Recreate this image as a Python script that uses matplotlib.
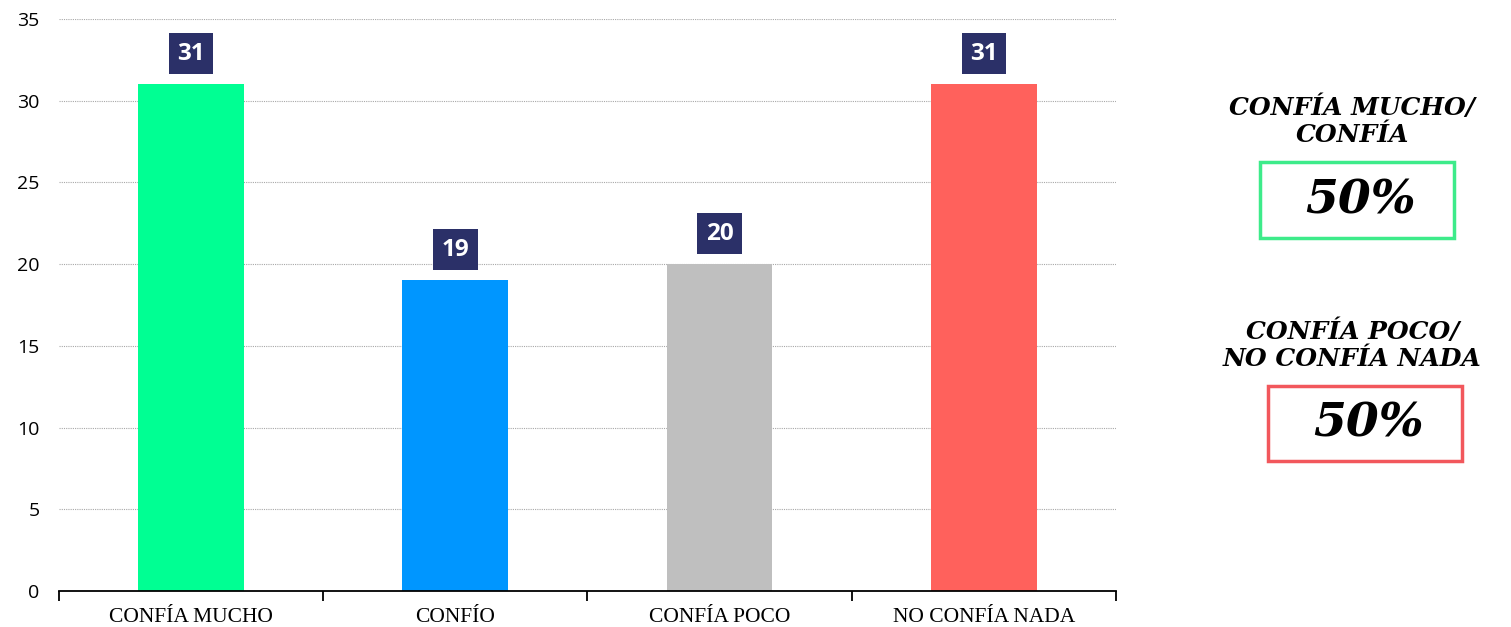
import matplotlib
matplotlib.use("Agg")
import matplotlib.pyplot as plt
from matplotlib.patches import Rectangle

# -------------------- Data --------------------
categories = ["CONFÍA MUCHO", "CONFÍO", "CONFÍA POCO", "NO CONFÍA NADA"]
values = [31, 19, 20, 31]
bar_colors = ["#00FF93", "#0096FF", "#BFBFBF", "#FF615C"]
yticks = [0, 5, 10, 15, 20, 25, 30, 35]

summary_titles = ["CONFÍA MUCHO/\nCONFÍA", "CONFÍA POCO/\nNO CONFÍA NADA"]
summary_values = ["50%", "50%"]
summary_colors = ["#3DEB8A", "#F2575C"]

# -------------------- Figure --------------------
fig = plt.figure(figsize=(15.11, 6.27), dpi=100)
ax = fig.add_axes([0.039, 0.0574, 0.6996, 0.9123])

x = list(range(len(categories)))
ax.bar(x, values, width=0.4, color=bar_colors, zorder=3)

ax.set_xlim(-0.5, len(categories) - 0.5)
ax.set_ylim(0, 35)
ax.set_yticks(yticks)
ax.tick_params(axis="y", length=0, pad=14, labelsize=14)
for lab in ax.get_yticklabels():
    lab.set_family("Open Sans")

ax.set_xticks(x)
ax.set_xticklabels(categories, family="Liberation Serif", fontsize=15.5)
ax.tick_params(axis="x", length=0, pad=12)
# boundary ticks between categories
ax.set_xticks([i - 0.5 for i in range(len(categories) + 1)], minor=True)
ax.tick_params(axis="x", which="minor", length=7, width=1.3, color="black", direction="out")

ax.grid(axis="y", linestyle=(0, (1, 1)), color="#A8A8A8", linewidth=0.8, zorder=0)
for s in ["left", "right", "top"]:
    ax.spines[s].set_visible(False)
ax.spines["bottom"].set_linewidth(1.3)
ax.spines["bottom"].set_zorder(4)

for xi, v in zip(x, values):
    ax.annotate(str(v), (xi, v), xytext=(0, 22), textcoords="offset points",
                ha="center", va="center", color="white", fontsize=17.5,
                fontweight="bold", family="Open Sans",
                bbox=dict(boxstyle="square,pad=0.35", fc="#2B3068", ec="none"))

# -------------------- Summary panel --------------------
title_y = [0.806, 0.449]
box_y = [0.681, 0.325]
box_x = [0.8341, 0.8394]
for t, val, col, ty, by, bx in zip(summary_titles, summary_values, summary_colors,
                                   title_y, box_y, box_x):
    fig.text(0.895, ty, t, ha="center", va="center", fontsize=18,
             fontweight="bold", fontstyle="italic", family="DejaVu Serif",
             linespacing=1.15)
    rect = Rectangle((bx, by - 0.06), 0.128, 0.12, transform=fig.transFigure,
                     fill=False, ec=col, lw=2.5)
    fig.add_artist(rect)
    fig.text(bx + 0.064 + 0.002, by, val, ha="center", va="center", fontsize=34,
             fontweight="bold", fontstyle="italic", family="DejaVu Serif")

fig.savefig("out.png", dpi=100)
